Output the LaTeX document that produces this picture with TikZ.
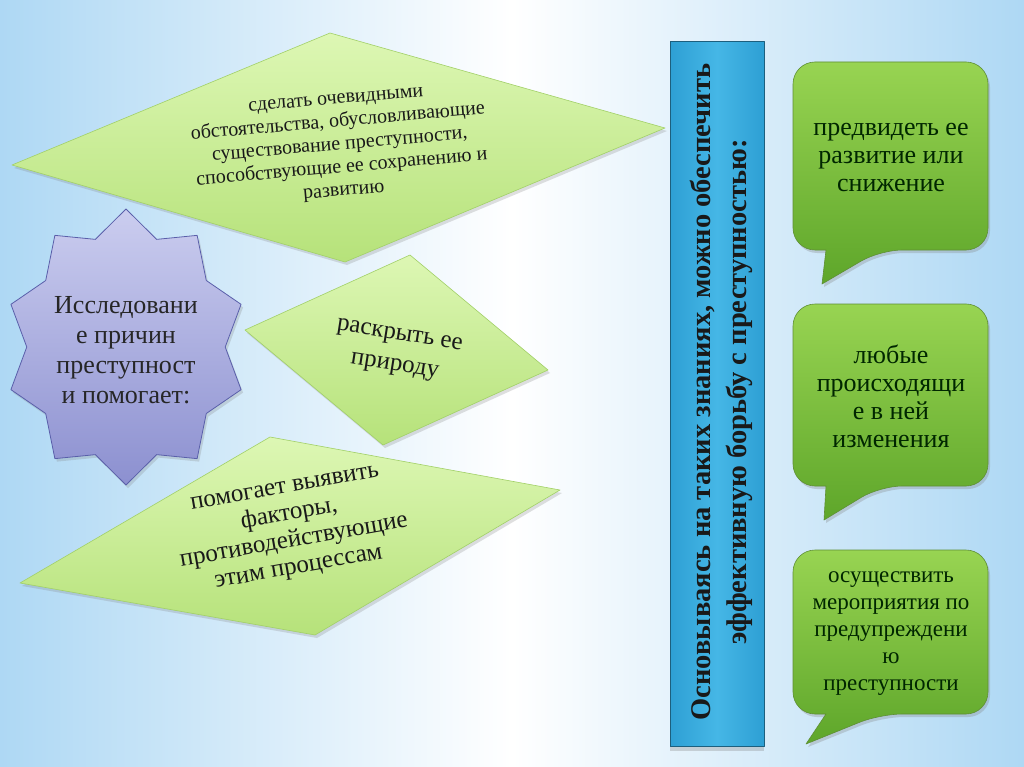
\documentclass[tikz,border=0pt]{standalone}
\usepackage{fontspec}
\setmainfont{Liberation Serif}
\usetikzlibrary{shadows}

\definecolor{skyedge}{HTML}{AED8F4}
\definecolor{leaftop}{HTML}{DDF7B4}
\definecolor{leafbot}{HTML}{B6E27A}
\definecolor{leafline}{HTML}{A2D068}
\definecolor{lilactop}{HTML}{CBCDEF}
\definecolor{lilacbot}{HTML}{8C90D0}
\definecolor{lilacline}{HTML}{5A5FAA}
\definecolor{seatop}{HTML}{2E9FD4}
\definecolor{seamid}{HTML}{45B7E6}
\definecolor{sealine}{HTML}{1D5F7E}
\definecolor{grasstop}{HTML}{98D452}
\definecolor{grassbot}{HTML}{5EA62A}
\definecolor{grassline}{HTML}{5F8F35}

\begin{document}
\begin{tikzpicture}[x=1pt,y=-1pt,line join=round]
  \tikzset{
    rhomb/.style={top color=leaftop,bottom color=leafbot,draw=leafline,line width=0.6pt,
      drop shadow={opacity=0.25,shadow xshift=2pt,shadow yshift=-3pt}},
    burst/.style={top color=lilactop,bottom color=lilacbot,draw=lilacline,line width=0.8pt,
      drop shadow={opacity=0.25,shadow xshift=2pt,shadow yshift=-3pt}},
    bar/.style={left color=seatop,right color=seatop,middle color=seamid,draw=sealine,line width=1pt,
      drop shadow={opacity=0.3,shadow xshift=0pt,shadow yshift=-5pt}},
    bubble/.style={top color=grasstop,bottom color=grassbot,draw=grassline,line width=0.6pt,
      drop shadow={opacity=0.3,shadow xshift=2pt,shadow yshift=-3pt}},
    rhombtext/.style={align=center,text=black!90,font=\fontsize{20}{23}\selectfont},
    bubbletext/.style={align=center,text=black!85!green,font=\fontsize{26}{28}\selectfont}
  }

  \newcommand{\speech}[4]{% top, bottom, tip x, tip y
    \path[bubble,rounded corners=22pt] (890,#1) -- (988,#1) -- (988,#2) -- (880,#2)
      [sharp corners] -- (#3,#4) -- (826,#2)
      [rounded corners=22pt] -- (793,#2) -- (793,#1) -- cycle;
  }

  \useasboundingbox (0,0) rectangle (1024,767);
  \shade[left color=skyedge,right color=skyedge,middle color=white] (0,0) rectangle (1024,767);

  % left side: what the study of causes gives
  \path[rhomb] (12,165) -- (330,33) -- (665,128) -- (345,262) -- cycle;
  \node[rhombtext,rotate=5] (showtext) at (340,147)
    {сделать очевидными\\обстоятельства, обусловливающие\\существование преступности,\\способствующие ее сохранению и\\развитию};

  \path[rhomb] (245,330) -- (410,255) -- (548,370) -- (383,445) -- cycle;
  \node[rhombtext,rotate=-9,font=\fontsize{25}{31}\selectfont] (naturetext) at (397,352)
    {раскрыть ее\\природу};

  \path[rhomb] (20,583) -- (270,437) -- (560,490) -- (315,635) -- cycle;
  \node[rhombtext,rotate=10,font=\fontsize{25}{27}\selectfont] (factortext) at (292,530)
    {помогает выявить\\факторы,\\противодействующие\\этим процессам};

  \begin{scope}[shift={(126,347)}]
    \draw[burst] (90:121 and 138)
      \foreach \k [evaluate=\k as \r using {mod(\k,2)==0 ? 1 : 0.82}] in {1,...,19}
        { -- (90+18*\k:{121*\r} and {138*\r}) } -- cycle;
  \end{scope}
  \node[align=center,text=black!85,font=\fontsize{26}{30}\selectfont] (causetext) at (126,350)
    {Исследовани\\е причин\\преступност\\и помогает:};

  % the bar in the middle
  \path[bar] (670,42) rectangle (764,746);
  \node[rotate=90,align=center,text=black!90,font=\bfseries\fontsize{28.5}{36}\selectfont] (bartext) at (721,392)
    {Основываясь на таких знаниях, можно обеспечить\\эффективную борьбу с преступностью:};

  % right side: three speech bubbles
  \speech{62}{250}{822}{284}
  \node[bubbletext] (foreseetext) at (891,158) {предвидеть ее\\развитие или\\снижение};

  \speech{304}{486}{824}{520}
  \node[bubbletext] (changetext) at (891,396) {любые\\происходящи\\е в ней\\изменения};

  \speech{550}{714}{806}{744}
  \node[bubbletext,font=\fontsize{23}{27}\selectfont] (preventtext) at (891,634)
    {осуществить\\мероприятия по\\предупреждени\\ю\\преступности};
\end{tikzpicture}
\end{document}
